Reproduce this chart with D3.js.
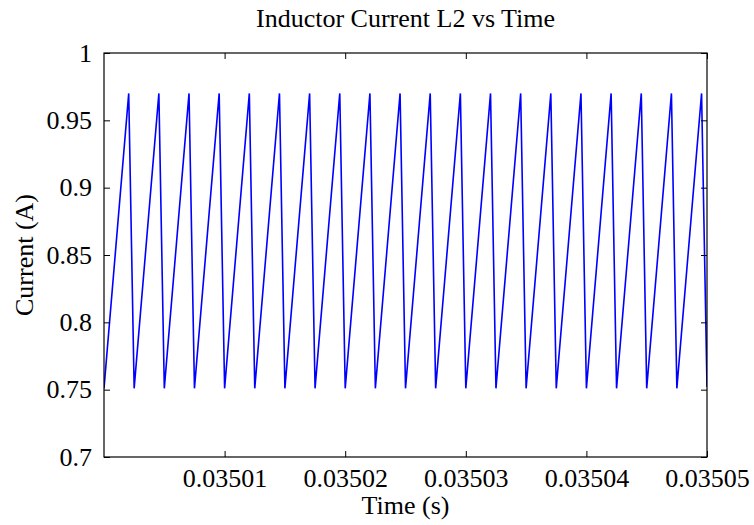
<!DOCTYPE html>
<html><head><meta charset="utf-8">
<script src="https://cdn.jsdelivr.net/npm/d3@7/dist/d3.min.js"></script>
<style>body{margin:0;background:#fff}svg{display:block}text{font-family:"Liberation Serif","Times New Roman",serif;fill:#000}</style>
</head><body><svg id="c" width="754" height="525"></svg>
<script>
// vertex times (s) and currents (A) of the sawtooth
const times = [0.03500000,
 0.03500205,0.03500250,0.03500455,0.03500500,0.03500705,0.03500750,0.03500955,0.03501000,
 0.03501205,0.03501250,0.03501455,0.03501500,0.03501705,0.03501750,0.03501955,0.03502000,
 0.03502205,0.03502250,0.03502455,0.03502500,0.03502705,0.03502750,0.03502955,0.03503000,
 0.03503205,0.03503250,0.03503455,0.03503500,0.03503705,0.03503750,0.03503955,0.03504000,
 0.03504205,0.03504250,0.03504455,0.03504500,0.03504705,0.03504750,0.03504955,0.03505000];
const currents = [0.751,
 0.970,0.751,0.970,0.751,0.970,0.751,0.970,0.751,
 0.970,0.751,0.970,0.751,0.970,0.751,0.970,0.751,
 0.970,0.751,0.970,0.751,0.970,0.751,0.970,0.751,
 0.970,0.751,0.970,0.751,0.970,0.751,0.970,0.751,
 0.970,0.751,0.970,0.751,0.970,0.751,0.970,0.752];
const xTicks = [0.03501,0.03502,0.03503,0.03504,0.03505];
const xTickLabels = ["0.03501","0.03502","0.03503","0.03504","0.03505"];
const yTicks = [0.7,0.75,0.8,0.85,0.9,0.95,1];
const yTickLabels = ["0.7","0.75","0.8","0.85","0.9","0.95","1"];
const titleText = "Inductor Current L2 vs Time";
const xLabel = "Time (s)";
const yLabel = "Current (A)";

const L=104, R=707, T=53, B=457, FS=26;
const SERIF = '"Liberation Serif","Times New Roman",serif';
const svg = d3.select("#c");
const x = d3.scaleLinear().domain([0.035,0.03505]).range([L,R]);
const y = d3.scaleLinear().domain([0.7,1]).range([B,T]);
const pts = times.map((t,i)=>[t,currents[i]]);

svg.append("clipPath").attr("id","clp").append("rect").attr("x",L).attr("y",T).attr("width",R-L).attr("height",B-T);
svg.append("path").datum(pts).attr("clip-path","url(#clp)")
  .attr("d", d3.line().x(d=>x(d[0])).y(d=>y(d[1])))
  .attr("fill","none").attr("stroke","#0000ff").attr("stroke-width",1.6).attr("stroke-linejoin","miter");

const tl = 6;
const ax = d3.axisBottom(x).tickValues(xTicks).tickFormat((d,i)=>xTickLabels[i]).tickSizeInner(-tl).tickSizeOuter(0).tickPadding(12);
const gx = svg.append("g").attr("transform",`translate(0,${B})`).call(ax);
const axT = d3.axisTop(x).tickValues(xTicks).tickFormat("").tickSizeInner(-tl).tickSizeOuter(0);
const gxt = svg.append("g").attr("transform",`translate(0,${T})`).call(axT);
const ay = d3.axisLeft(y).tickValues(yTicks).tickFormat((d,i)=>yTickLabels[i]).tickSizeInner(-tl).tickSizeOuter(0).tickPadding(12);
const gy = svg.append("g").attr("transform",`translate(${L},0)`).call(ay);
const ayR = d3.axisRight(y).tickValues(yTicks).tickFormat("").tickSizeInner(-tl).tickSizeOuter(0);
const gyr = svg.append("g").attr("transform",`translate(${R},0)`).call(ayR);
[gx,gxt,gy,gyr].forEach(g=>{
  g.attr("font-family",SERIF).attr("font-size",FS);
  g.select(".domain").remove();
  g.selectAll("line").attr("stroke","#000").attr("stroke-width",1);
  g.selectAll("text").style("font-size",FS+"px").style("font-family",SERIF).attr("fill","#000");
});
svg.append("rect").attr("x",L).attr("y",T).attr("width",R-L).attr("height",B-T)
  .attr("fill","none").attr("stroke","#000").attr("stroke-width",1.2);

svg.append("text").attr("x",(L+R)/2).attr("y",27).attr("text-anchor","middle").style("font-size",FS+"px").text(titleText);
svg.append("text").attr("x",(L+R)/2).attr("y",514).attr("text-anchor","middle").style("font-size",FS+"px").text(xLabel);
svg.append("text").attr("transform",`translate(33,${(T+B)/2}) rotate(-90)`).attr("text-anchor","middle").style("font-size",FS+"px").text(yLabel);
</script></body></html>
